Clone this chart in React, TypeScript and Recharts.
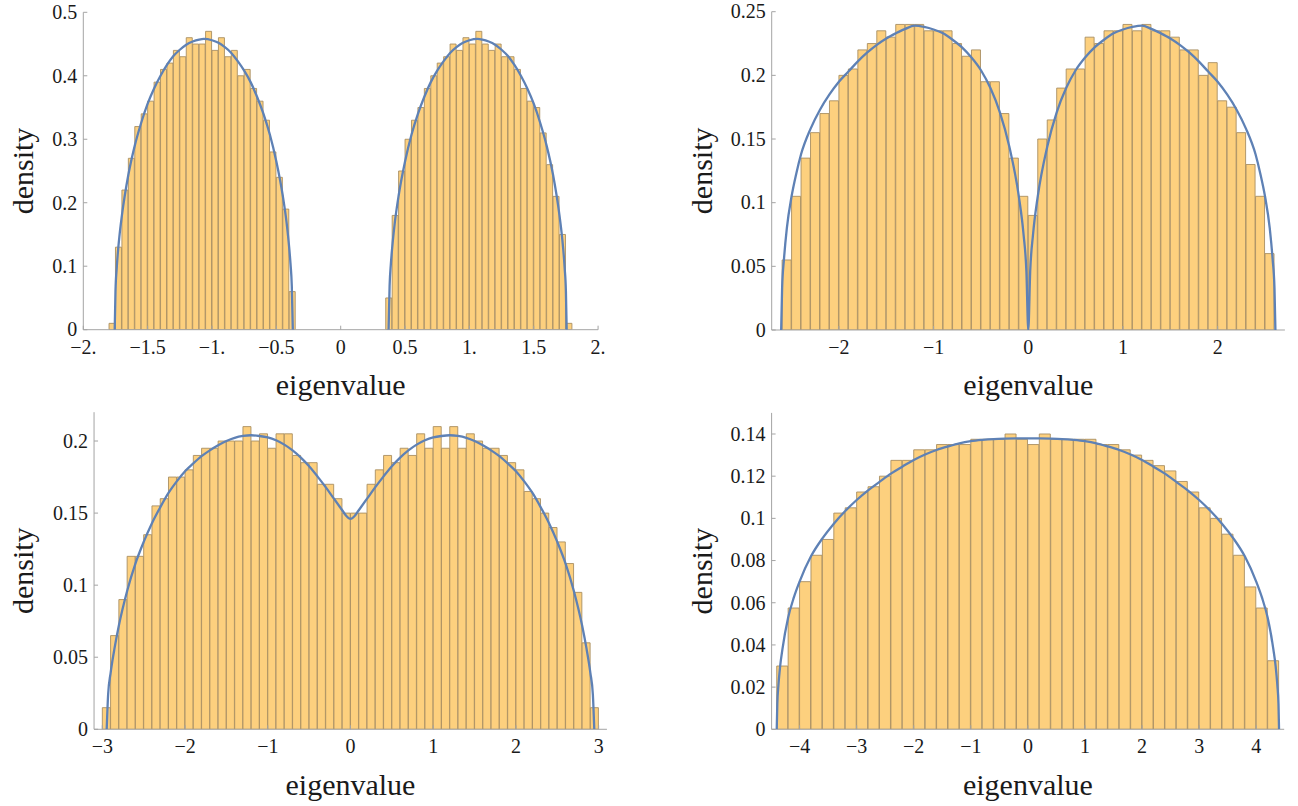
import React from 'react';
import { BarChart, Bar, LineChart, Line, XAxis, YAxis, Label } from 'recharts';

// --- top-left panel: bins of 0.05 ---
const p1BinWidth = 0.05;
const p1LeftStart = -1.8;
const p1LeftDensity = [0.01, 0.13, 0.22, 0.27, 0.32, 0.34, 0.36, 0.39, 0.41, 0.42, 0.44, 0.43, 0.46, 0.45, 0.45, 0.47, 0.44, 0.46, 0.43, 0.44, 0.40, 0.41, 0.38, 0.36, 0.33, 0.28, 0.24, 0.19, 0.06];
const p1RightStart = 0.35;
const p1RightDensity = [0.05, 0.18, 0.25, 0.30, 0.33, 0.35, 0.38, 0.40, 0.42, 0.43, 0.45, 0.44, 0.46, 0.45, 0.47, 0.45, 0.44, 0.45, 0.43, 0.43, 0.41, 0.38, 0.36, 0.35, 0.31, 0.26, 0.21, 0.15, 0.01];
const p1CurveX = [-1.756, -1.75, -1.74, -1.72, -1.7, -1.65, -1.6, -1.55, -1.5, -1.45, -1.4, -1.35, -1.3, -1.25, -1.2, -1.15, -1.1, -1.064, -1.0, -0.95, -0.9, -0.85, -0.8, -0.75, -0.7, -0.65, -0.6, -0.55, -0.5, -0.45, -0.42, -0.4, -0.39, -0.38, -0.372,
  0,
  0.372, 0.38, 0.39, 0.4, 0.42, 0.45, 0.5, 0.55, 0.6, 0.65, 0.7, 0.75, 0.8, 0.85, 0.9, 0.95, 1.0, 1.064, 1.1, 1.15, 1.2, 1.25, 1.3, 1.35, 1.4, 1.45, 1.5, 1.55, 1.6, 1.65, 1.7, 1.72, 1.74, 1.75, 1.756];
const p1CurveY = [0, 0.06, 0.098, 0.146, 0.18, 0.244, 0.29, 0.326, 0.356, 0.38, 0.4, 0.417, 0.431, 0.441, 0.449, 0.454, 0.457, 0.458, 0.456, 0.452, 0.445, 0.436, 0.423, 0.408, 0.39, 0.367, 0.34, 0.307, 0.265, 0.211, 0.168, 0.129, 0.104, 0.069, 0,
  null,
  0, 0.069, 0.104, 0.129, 0.168, 0.211, 0.265, 0.307, 0.34, 0.367, 0.39, 0.408, 0.423, 0.436, 0.445, 0.452, 0.456, 0.458, 0.457, 0.454, 0.449, 0.441, 0.431, 0.417, 0.4, 0.38, 0.356, 0.326, 0.29, 0.244, 0.18, 0.146, 0.098, 0.06, 0];
const p1XTicks = [-2, -1.5, -1, -0.5, 0, 0.5, 1, 1.5, 2];
const p1XLabels = ['−2.', '−1.5', '−1.', '−0.5', '0', '0.5', '1.', '1.5', '2.'];
const p1YTicks = [0, 0.1, 0.2, 0.3, 0.4, 0.5];

// --- top-right panel: bins of 0.1 ---
const p2BinWidth = 0.1;
const p2Start = -2.6;
const p2Density = [0.055, 0.105, 0.135, 0.155, 0.17, 0.18, 0.20, 0.205, 0.22, 0.225, 0.235, 0.23,
  0.24, 0.24, 0.24, 0.235, 0.235, 0.235, 0.225, 0.215, 0.22,
  0.195, 0.195, 0.17, 0.135, 0.105,
  0.09, 0.15, 0.165, 0.19, 0.205, 0.205, 0.23, 0.225, 0.235, 0.235, 0.24, 0.235, 0.24, 0.235, 0.235, 0.23, 0.22, 0.22, 0.20, 0.21, 0.18, 0.175, 0.155, 0.13, 0.105, 0.06];
const p2CurveX = [-2.61, -2.6, -2.58, -2.55, -2.5, -2.45, -2.4, -2.3, -2.2, -2.1, -2.0, -1.9, -1.8, -1.7, -1.6, -1.5, -1.4, -1.3, -1.2, -1.1, -1.0, -0.9, -0.8, -0.7, -0.6, -0.5, -0.4, -0.3, -0.2, -0.1, -0.05, -0.02, 0,
  0.02, 0.05, 0.1, 0.2, 0.3, 0.4, 0.5, 0.6, 0.7, 0.8, 0.9, 1.0, 1.1, 1.2, 1.3, 1.4, 1.5, 1.6, 1.7, 1.8, 1.9, 2.0, 2.1, 2.2, 2.3, 2.4, 2.45, 2.5, 2.55, 2.58, 2.6, 2.61];
const p2CurveY = [0, 0.033, 0.056, 0.08, 0.105, 0.123, 0.138, 0.158, 0.173, 0.185, 0.195, 0.203, 0.211, 0.218, 0.224, 0.229, 0.233, 0.2365, 0.239, 0.238, 0.236, 0.233, 0.228, 0.222, 0.214, 0.204, 0.19, 0.171, 0.144, 0.105, 0.075, 0.046, 0,
  0.046, 0.075, 0.105, 0.144, 0.171, 0.19, 0.204, 0.214, 0.222, 0.228, 0.233, 0.236, 0.238, 0.239, 0.2365, 0.233, 0.229, 0.224, 0.218, 0.211, 0.203, 0.195, 0.185, 0.173, 0.158, 0.138, 0.123, 0.105, 0.08, 0.056, 0.033, 0];
const p2XTicks = [-2, -1, 0, 1, 2];
const p2XLabels = ['−2', '−1', '0', '1', '2'];
const p2YTicks = [0, 0.05, 0.1, 0.15, 0.2, 0.25];

// --- bottom-left panel: bins of 0.1 ---
const p3BinWidth = 0.1;
const p3Start = -3.0;
const p3Density = [0.015, 0.065, 0.09, 0.12, 0.12, 0.135, 0.155, 0.16, 0.175, 0.175, 0.18, 0.19, 0.195, 0.195, 0.20, 0.20, 0.20, 0.21, 0.20, 0.205, 0.195, 0.205, 0.205, 0.19, 0.185, 0.185, 0.17, 0.17, 0.16, 0.15, 0.15,
  0.15, 0.17, 0.18, 0.19, 0.185, 0.195, 0.19, 0.205, 0.195, 0.21, 0.195, 0.21, 0.195, 0.205, 0.20, 0.195, 0.195, 0.19, 0.185, 0.18, 0.165, 0.16, 0.15, 0.14, 0.13, 0.115, 0.095, 0.06, 0.015];
const p3CurveX = [-2.947, -2.93, -2.9, -2.85, -2.8, -2.7, -2.6, -2.5, -2.4, -2.3, -2.2, -2.1, -2.0, -1.9, -1.8, -1.7, -1.6, -1.5, -1.4, -1.3, -1.2, -1.1, -1.0, -0.9, -0.8, -0.7, -0.6, -0.5, -0.4, -0.3, -0.2, -0.1, -0.05, 0,
  0.05, 0.1, 0.2, 0.3, 0.4, 0.5, 0.6, 0.7, 0.8, 0.9, 1.0, 1.1, 1.2, 1.3, 1.4, 1.5, 1.6, 1.7, 1.8, 1.9, 2.0, 2.1, 2.2, 2.3, 2.4, 2.5, 2.6, 2.7, 2.8, 2.85, 2.9, 2.93, 2.947];
const p3CurveY = [0, 0.024, 0.039, 0.057, 0.072, 0.096, 0.115, 0.13, 0.143, 0.154, 0.164, 0.172, 0.179, 0.1845, 0.1895, 0.1935, 0.197, 0.2, 0.2022, 0.2035, 0.204, 0.2035, 0.2025, 0.2005, 0.1975, 0.1935, 0.1885, 0.1825, 0.1755, 0.168, 0.16, 0.152, 0.148, 0.146,
  0.148, 0.152, 0.16, 0.168, 0.1755, 0.1825, 0.1885, 0.1935, 0.1975, 0.2005, 0.2025, 0.2035, 0.204, 0.2035, 0.2022, 0.2, 0.197, 0.1935, 0.1895, 0.1845, 0.179, 0.172, 0.164, 0.154, 0.143, 0.13, 0.115, 0.096, 0.072, 0.057, 0.039, 0.024, 0];
const p3XTicks = [-3, -2, -1, 0, 1, 2, 3];
const p3XLabels = ['−3', '−2', '−1', '0', '1', '2', '3'];
const p3YTicks = [0, 0.05, 0.1, 0.15, 0.2];

// --- bottom-right panel: bins of 0.2 ---
const p4BinWidth = 0.2;
const p4Start = -4.4;
const p4Density = [0.030, 0.0575, 0.070, 0.0825, 0.090, 0.1025, 0.105, 0.1125, 0.115, 0.120,
  0.1275, 0.1275, 0.1325, 0.1325, 0.135, 0.135, 0.135, 0.1375, 0.1375, 0.1375,
  0.14, 0.1375, 0.135, 0.14, 0.1375, 0.1375, 0.1375, 0.1375, 0.135, 0.135,
  0.1325, 0.13, 0.1275, 0.125, 0.1225, 0.1175, 0.1125, 0.105, 0.10, 0.0925,
  0.0825, 0.0675, 0.0575, 0.0325];
const p4CurveX = [-4.4, -4.39, -4.37, -4.34, -4.3, -4.2, -4.1, -4.0, -3.8, -3.6, -3.4, -3.2, -3.0, -2.8, -2.6, -2.4, -2.2, -2.0, -1.8, -1.6, -1.4, -1.2, -1.0, -0.8, -0.6, -0.4, -0.2, 0,
  0.2, 0.4, 0.6, 0.8, 1.0, 1.2, 1.4, 1.6, 1.8, 2.0, 2.2, 2.4, 2.6, 2.8, 3.0, 3.2, 3.4, 3.6, 3.8, 4.0, 4.1, 4.2, 4.3, 4.34, 4.37, 4.39, 4.4];
const p4CurveY = [0, 0.012, 0.021, 0.03, 0.038, 0.053, 0.0625, 0.07, 0.082, 0.0905, 0.0975, 0.1035, 0.1087, 0.1133, 0.1173, 0.1212, 0.1245, 0.1277, 0.1303, 0.1324, 0.1341, 0.1356, 0.1366, 0.1372, 0.1376, 0.1378, 0.1379, 0.1379,
  0.1379, 0.1378, 0.1376, 0.1372, 0.1366, 0.1356, 0.1341, 0.1324, 0.1303, 0.1277, 0.1245, 0.1212, 0.1173, 0.1133, 0.1087, 0.1035, 0.0975, 0.0905, 0.082, 0.07, 0.0625, 0.053, 0.038, 0.03, 0.021, 0.012, 0];
const p4XTicks = [-4, -3, -2, -1, 0, 1, 2, 3, 4];
const p4XLabels = ['−4', '−3', '−2', '−1', '0', '1', '2', '3', '4'];
const p4YTicks = [0, 0.02, 0.04, 0.06, 0.08, 0.1, 0.12, 0.14];

const FONT = '"Liberation Serif", "DejaVu Serif", serif';
const AXIS_COLOR = '#a4a4a4';
const BAR_FILL = '#fdd07e';
const BAR_EDGE = '#a98e62';
const CURVE = '#5e81b5';
const TEXT = '#1a1a1a';
const TICK_SIZE = 20;

type Row = { x: number; y: number | null };

// bin centres from the first edge and the bin width
const bins = (start: number, width: number, values: number[]): Row[] =>
  values.map((v, i) => ({ x: +(start + (i + 0.5) * width).toFixed(4), y: v }));

const pairs = (xs: number[], ys: (number | null)[]): Row[] => xs.map((x, i) => ({ x, y: ys[i] }));

interface PanelProps {
  left: number;
  top: number;
  mt: number;
  mr: number;
  yw: number;
  plotW: number;
  plotH: number;
  xDomain: [number, number];
  yDomain: [number, number];
  xTicks: number[];
  xLabels: string[];
  yTicks: number[];
  bars: Row[];
  curve: Row[];
  densityX: number;
}

const XH = 75;

const Panel: React.FC<PanelProps> = (p) => {
  const width = p.yw + p.plotW + p.mr;
  const height = p.mt + p.plotH + XH;

  const XTick = (t: any) => {
    const i = p.xTicks.indexOf(t.payload.value);
    return (
      <text x={t.x} y={t.y} dy="0.71em" textAnchor="middle" fontFamily={FONT} fontSize={TICK_SIZE} fill={TEXT}>
        {i >= 0 ? p.xLabels[i] : String(t.payload.value)}
      </text>
    );
  };
  const YTick = (t: any) => (
    <text x={t.x} y={t.y} dy="0.34em" textAnchor="end" fontFamily={FONT} fontSize={TICK_SIZE} fill={TEXT}>
      {String(t.payload.value)}
    </text>
  );

  return (
    <div style={{ position: 'absolute', left: p.left, top: p.top, width, height }}>
      <div style={{ position: 'absolute', left: 0, top: 0 }}>
        <BarChart
          width={width}
          height={height}
          data={p.bars}
          margin={{ top: p.mt, right: p.mr, bottom: 0, left: 0 }}
          barCategoryGap={0}
          barGap={0}
        >
          <XAxis
            type="number"
            dataKey="x"
            domain={p.xDomain}
            allowDataOverflow
            ticks={p.xTicks}
            interval={0}
            height={XH}
            tickSize={-4}
            tickMargin={13.8}
            stroke={AXIS_COLOR}
            tick={XTick}
          >
            <Label value="eigenvalue" position="insideBottom" offset={9.7} style={{ fontSize: 30, fontFamily: FONT, fill: TEXT }} />
          </XAxis>
          <YAxis
            type="number"
            domain={p.yDomain}
            allowDataOverflow
            ticks={p.yTicks}
            interval={0}
            width={p.yw}
            tickSize={-4}
            tickMargin={10}
            stroke={AXIS_COLOR}
            tick={YTick}
          >
            <Label
              value="density"
              angle={-90}
              position="insideLeft"
              offset={p.densityX}
              style={{ fontSize: 30, fontFamily: FONT, fill: TEXT, textAnchor: 'middle' }}
            />
          </YAxis>
          <Bar dataKey="y" fill={BAR_FILL} stroke={BAR_EDGE} strokeWidth={0.9} isAnimationActive={false} />
        </BarChart>
      </div>
      <div style={{ position: 'absolute', left: 0, top: 0 }}>
        <LineChart
          width={width}
          height={height}
          data={p.curve}
          margin={{ top: p.mt, right: p.mr, bottom: XH, left: p.yw }}
        >
          <XAxis type="number" dataKey="x" domain={p.xDomain} allowDataOverflow hide />
          <YAxis type="number" domain={p.yDomain} allowDataOverflow hide />
          <Line
            type="monotone"
            dataKey="y"
            stroke={CURVE}
            strokeWidth={2.3}
            dot={false}
            activeDot={false}
            connectNulls={false}
            isAnimationActive={false}
          />
        </LineChart>
      </div>
    </div>
  );
};

export default function App() {
  const p1Bars = [...bins(p1LeftStart, p1BinWidth, p1LeftDensity), ...bins(p1RightStart, p1BinWidth, p1RightDensity)];
  return (
    <div style={{ position: 'absolute', left: 0, top: 0, width: 1298, height: 806, background: '#fff' }}>
      <Panel
        left={0} top={0} mt={12.3} mr={22} yw={83.3} plotW={514.8} plotH={317.4}
        xDomain={[-2, 2]} yDomain={[0, 0.5]}
        xTicks={p1XTicks} xLabels={p1XLabels} yTicks={p1YTicks}
        bars={p1Bars} curve={pairs(p1CurveX, p1CurveY)} densityX={22.7}
      />
      <Panel
        left={660} top={0} mt={11.7} mr={10} yw={111.7} plotW={513.2} plotH={318.3}
        xDomain={[-2.71, 2.71]} yDomain={[0, 0.25]}
        xTicks={p2XTicks} xLabels={p2XLabels} yTicks={p2YTicks}
        bars={bins(p2Start, p2BinWidth, p2Density)} curve={pairs(p2CurveX, p2CurveY)} densityX={41.8}
      />
      <Panel
        left={0} top={400} mt={12.2} mr={20} yw={94.05} plotW={512.9} plotH={317.1}
        xDomain={[-3.1, 3.1]} yDomain={[0, 0.22]}
        xTicks={p3XTicks} xLabels={p3XLabels} yTicks={p3YTicks}
        bars={bins(p3Start, p3BinWidth, p3Density)} curve={pairs(p3CurveX, p3CurveY)} densityX={22.7}
      />
      <Panel
        left={660} top={400} mt={12.9} mr={12} yw={111.6} plotW={512.6} plotH={316.4}
        xDomain={[-4.49, 4.49]} yDomain={[0, 0.15]}
        xTicks={p4XTicks} xLabels={p4XLabels} yTicks={p4YTicks}
        bars={bins(p4Start, p4BinWidth, p4Density)} curve={pairs(p4CurveX, p4CurveY)} densityX={41.8}
      />
    </div>
  );
}
